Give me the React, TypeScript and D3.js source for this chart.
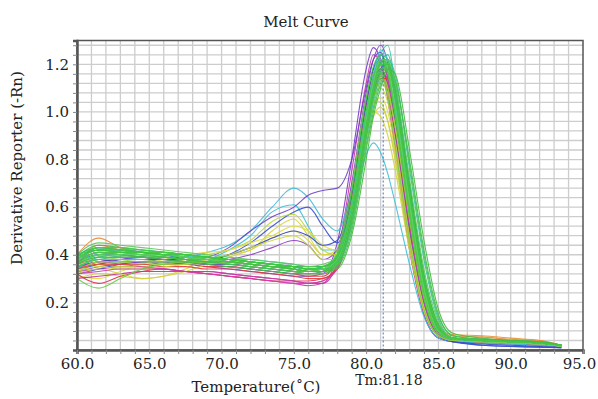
import React, { useEffect, useRef } from "react";
import * as d3 from "d3";

// temperatures (°C) where every curve is sampled
const temps = [60, 61.5, 63, 64.5, 66, 67.5, 69, 70.5, 72, 73.5, 75, 76, 77, 78, 79, 80, 80.5, 81, 81.5, 82, 83, 84, 85, 86, 88, 90, 92, 93.5];

// derivative reporter (-Rn) for each well, same order as temps
const wellValues = [
  [0.35,0.37,0.38,0.38,0.37,0.36,0.35,0.34,0.33,0.32,0.31,0.31,0.32, 0.45,0.80,1.18,1.27,1.22,1.08,0.86,0.44,0.15,0.05,0.035,0.03,0.03,0.02,0.015],
  [0.33,0.34,0.35,0.35,0.34,0.33,0.32,0.31,0.30,0.29,0.28,0.27,0.28, 0.40,0.75,1.12,1.24,1.20,1.05,0.84,0.42,0.15,0.05,0.035,0.03,0.025,0.02,0.015],
  [0.36,0.38,0.37,0.37,0.36,0.36,0.35,0.35,0.34,0.33,0.32,0.31,0.31, 0.38,0.66,1.04,1.16,1.18,1.10,0.92,0.50,0.20,0.07,0.05,0.045,0.04,0.035,0.02],
  [0.40,0.47,0.43,0.41,0.40,0.39,0.38,0.37,0.36,0.35,0.34,0.33,0.34, 0.40,0.64,1.00,1.12,1.15,1.08,0.90,0.50,0.20,0.08,0.06,0.055,0.045,0.04,0.02],
  [0.30,0.32,0.31,0.30,0.31,0.34,0.38,0.40,0.42,0.50,0.55,0.48,0.40, 0.42,0.62,0.92,1.00,0.98,0.90,0.76,0.42,0.16,0.06,0.04,0.035,0.03,0.025,0.015],
  [0.33,0.36,0.37,0.37,0.37,0.37,0.38,0.42,0.48,0.58,0.61,0.52,0.42, 0.42,0.58,0.82,0.87,0.83,0.74,0.62,0.36,0.14,0.05,0.035,0.03,0.025,0.02,0.015],
  [0.37,0.40,0.39,0.38,0.38,0.39,0.41,0.44,0.50,0.60,0.68,0.64,0.55, 0.50,0.68,1.00,1.12,1.18,1.12,0.95,0.52,0.20,0.07,0.04,0.035,0.03,0.025,0.015],
  [0.34,0.36,0.38,0.39,0.38,0.38,0.39,0.43,0.50,0.56,0.60,0.65,0.67, 0.68,0.80,1.10,1.22,1.25,1.15,0.95,0.50,0.18,0.06,0.04,0.035,0.03,0.025,0.015],
  [0.32,0.34,0.36,0.37,0.37,0.36,0.37,0.40,0.45,0.52,0.58,0.60,0.52, 0.45,0.62,0.98,1.12,1.18,1.10,0.92,0.50,0.19,0.06,0.04,0.035,0.03,0.025,0.015],
  [0.34,0.36,0.35,0.35,0.36,0.38,0.40,0.42,0.46,0.54,0.57,0.50,0.42, 0.40,0.60,0.95,1.05,1.04,0.96,0.80,0.44,0.17,0.06,0.04,0.035,0.03,0.025,0.015],
  [0.31,0.30,0.33,0.36,0.38,0.40,0.41,0.42,0.45,0.48,0.52,0.50,0.44, 0.42,0.60,0.90,1.02,1.06,1.00,0.84,0.46,0.18,0.06,0.04,0.035,0.03,0.025,0.015],
  [0.32,0.28,0.31,0.33,0.34,0.33,0.32,0.31,0.30,0.29,0.29,0.29,0.30, 0.34,0.56,0.96,1.12,1.18,1.12,0.94,0.54,0.22,0.07,0.045,0.04,0.035,0.03,0.02],
  [0.36,0.43,0.42,0.41,0.40,0.38,0.36,0.35,0.34,0.33,0.32,0.32,0.33, 0.39,0.64,1.04,1.18,1.22,1.14,0.96,0.54,0.21,0.07,0.035,0.02,0.015,0.012,0.01],
  [0.30,0.31,0.32,0.33,0.33,0.33,0.33,0.32,0.31,0.30,0.29,0.28,0.28, 0.36,0.62,1.02,1.16,1.18,1.10,0.90,0.48,0.18,0.06,0.04,0.035,0.03,0.025,0.015],
  [0.33,0.35,0.36,0.37,0.37,0.37,0.37,0.38,0.40,0.43,0.46,0.44,0.38, 0.42,0.70,1.08,1.22,1.28,1.20,0.98,0.52,0.19,0.06,0.04,0.035,0.03,0.025,0.015],
  [0.37,0.41,0.40,0.39,0.38,0.37,0.36,0.36,0.35,0.34,0.33,0.32,0.32, 0.37,0.60,1.00,1.15,1.22,1.16,0.98,0.56,0.22,0.07,0.045,0.04,0.035,0.03,0.02],
  [0.32,0.34,0.32,0.30,0.31,0.33,0.36,0.39,0.42,0.47,0.50,0.46,0.40, 0.40,0.56,0.86,0.98,1.02,0.96,0.82,0.46,0.18,0.06,0.04,0.035,0.03,0.025,0.015],
  [0.35,0.37,0.38,0.38,0.38,0.38,0.38,0.40,0.43,0.47,0.50,0.48,0.44, 0.46,0.66,1.04,1.18,1.24,1.16,0.96,0.52,0.20,0.06,0.035,0.025,0.02,0.015,0.01],
  [0.36,0.44,0.42,0.40,0.39,0.38,0.37,0.37,0.36,0.35,0.34,0.33,0.33, 0.38,0.62,1.00,1.12,1.16,1.10,0.94,0.54,0.22,0.09,0.065,0.06,0.05,0.04,0.02],
  [0.34,0.37,0.36,0.35,0.34,0.33,0.32,0.31,0.30,0.29,0.28,0.28,0.29, 0.36,0.58,0.98,1.14,1.20,1.14,0.94,0.52,0.20,0.06,0.04,0.035,0.03,0.025,0.015],
  [0.35,0.39,0.38,0.37,0.37,0.38,0.39,0.38,0.37,0.36,0.35,0.34,0.34, 0.38,0.60,0.98,1.12,1.16,1.10,0.94,0.55,0.22,0.07,0.045,0.04,0.035,0.03,0.02],
  [0.33,0.37,0.37,0.36,0.36,0.36,0.37,0.37,0.36,0.35,0.34,0.33,0.33, 0.37,0.58,0.94,1.08,1.12,1.08,0.94,0.56,0.23,0.08,0.045,0.04,0.035,0.03,0.02],
  [0.34,0.36,0.36,0.36,0.35,0.35,0.34,0.34,0.33,0.32,0.31,0.30,0.30, 0.35,0.54,0.90,1.06,1.14,1.14,1.02,0.66,0.30,0.10,0.05,0.04,0.035,0.03,0.02],
  [0.37,0.40,0.40,0.39,0.38,0.37,0.36,0.36,0.35,0.34,0.33,0.33,0.33, 0.36,0.56,0.92,1.08,1.18,1.20,1.08,0.68,0.30,0.10,0.04,0.02,0.015,0.012,0.01],
  [0.33,0.35,0.34,0.34,0.35,0.36,0.38,0.40,0.43,0.46,0.48,0.44,0.38, 0.38,0.58,0.94,1.06,1.10,1.04,0.88,0.48,0.18,0.06,0.04,0.035,0.03,0.025,0.015],
  [0.32,0.33,0.34,0.34,0.34,0.33,0.33,0.32,0.31,0.30,0.29,0.28,0.29, 0.34,0.54,0.92,1.08,1.16,1.14,1.00,0.60,0.26,0.08,0.045,0.04,0.035,0.03,0.02],
  [0.38,0.42,0.41,0.40,0.39,0.38,0.38,0.38,0.37,0.36,0.35,0.34,0.34, 0.38,0.60,1.00,1.16,1.26,1.22,1.04,0.62,0.26,0.08,0.045,0.035,0.03,0.025,0.015],
  [0.35,0.38,0.38,0.38,0.37,0.37,0.37,0.37,0.36,0.35,0.34,0.33,0.33, 0.42,0.68,1.06,1.16,1.16,1.06,0.86,0.46,0.17,0.06,0.04,0.035,0.03,0.025,0.015],
  [0.34,0.39,0.40,0.40,0.39,0.38,0.38,0.37,0.36,0.35,0.34,0.33,0.33, 0.37,0.55,0.92,1.10,1.24,1.28,1.12,0.68,0.30,0.10,0.05,0.04,0.035,0.03,0.02],
  [0.40,0.43,0.42,0.42,0.41,0.40,0.38,0.37,0.36,0.35,0.34,0.34,0.35, 0.39,0.58,0.94,1.10,1.20,1.20,1.08,0.66,0.28,0.09,0.05,0.04,0.035,0.03,0.02],
  [0.36,0.41,0.41,0.40,0.40,0.39,0.39,0.38,0.38,0.37,0.36,0.35,0.35, 0.40,0.60,0.96,1.12,1.22,1.22,1.08,0.64,0.27,0.09,0.05,0.04,0.035,0.03,0.02],
  [0.38,0.42,0.42,0.41,0.40,0.39,0.38,0.37,0.36,0.35,0.35,0.34,0.34, 0.37,0.56,0.93,1.09,1.21,1.24,1.12,0.70,0.31,0.10,0.05,0.04,0.035,0.03,0.02],
  [0.36,0.40,0.41,0.41,0.40,0.39,0.38,0.38,0.37,0.36,0.35,0.34,0.34, 0.36,0.52,0.88,1.04,1.16,1.22,1.16,0.76,0.38,0.13,0.05,0.04,0.035,0.03,0.02],
  [0.37,0.42,0.42,0.41,0.41,0.40,0.39,0.38,0.37,0.36,0.35,0.34,0.34, 0.38,0.60,0.98,1.14,1.24,1.22,1.06,0.64,0.28,0.09,0.05,0.04,0.035,0.03,0.02],
  [0.30,0.26,0.30,0.34,0.36,0.37,0.37,0.36,0.35,0.34,0.33,0.32,0.32, 0.36,0.56,0.94,1.10,1.20,1.16,1.00,0.60,0.25,0.08,0.05,0.04,0.035,0.03,0.02],
  [0.36,0.41,0.40,0.39,0.38,0.37,0.36,0.35,0.34,0.33,0.32,0.32,0.33, 0.40,0.66,1.05,1.19,1.24,1.18,1.00,0.58,0.24,0.08,0.05,0.04,0.035,0.03,0.02],
  [0.38,0.42,0.41,0.40,0.39,0.38,0.37,0.36,0.35,0.34,0.33,0.33,0.34, 0.38,0.58,0.95,1.12,1.22,1.20,1.06,0.64,0.27,0.09,0.05,0.04,0.035,0.03,0.02],
  [0.37,0.41,0.41,0.40,0.40,0.39,0.38,0.37,0.36,0.35,0.34,0.33,0.34, 0.36,0.52,0.86,1.02,1.14,1.20,1.14,0.78,0.40,0.14,0.06,0.045,0.04,0.035,0.02],
  [0.37,0.40,0.41,0.41,0.40,0.39,0.38,0.37,0.36,0.35,0.34,0.33,0.33, 0.37,0.56,0.92,1.08,1.18,1.19,1.08,0.68,0.30,0.10,0.05,0.04,0.035,0.03,0.02],
  [0.39,0.44,0.43,0.42,0.41,0.40,0.39,0.38,0.37,0.36,0.35,0.35,0.35, 0.38,0.56,0.90,1.06,1.17,1.20,1.10,0.70,0.32,0.11,0.05,0.04,0.035,0.03,0.02],
  [0.39,0.42,0.42,0.41,0.40,0.40,0.39,0.38,0.37,0.36,0.35,0.34,0.34, 0.35,0.50,0.84,1.00,1.12,1.18,1.13,0.80,0.42,0.15,0.06,0.045,0.04,0.035,0.02],
  [0.38,0.43,0.42,0.41,0.41,0.40,0.39,0.38,0.37,0.36,0.34,0.33,0.33, 0.36,0.54,0.90,1.06,1.16,1.18,1.06,0.66,0.30,0.10,0.05,0.04,0.035,0.03,0.02],
  [0.38,0.43,0.43,0.42,0.41,0.40,0.39,0.38,0.37,0.36,0.35,0.34,0.35, 0.40,0.62,1.00,1.14,1.22,1.16,0.98,0.56,0.22,0.07,0.045,0.04,0.035,0.03,0.02],
  [0.35,0.38,0.39,0.39,0.39,0.38,0.37,0.36,0.35,0.34,0.33,0.32,0.32, 0.35,0.55,0.94,1.10,1.21,1.21,1.08,0.66,0.28,0.09,0.05,0.04,0.035,0.03,0.02],
  [0.40,0.45,0.44,0.43,0.42,0.41,0.40,0.39,0.38,0.37,0.36,0.35,0.36, 0.39,0.58,0.94,1.10,1.20,1.22,1.12,0.72,0.34,0.12,0.05,0.04,0.035,0.03,0.02],
  [0.36,0.40,0.40,0.40,0.40,0.39,0.38,0.37,0.36,0.35,0.34,0.33,0.34, 0.38,0.58,0.96,1.12,1.22,1.18,1.02,0.62,0.26,0.08,0.05,0.04,0.035,0.03,0.02],
  [0.36,0.39,0.39,0.39,0.39,0.38,0.37,0.37,0.36,0.35,0.34,0.33,0.33, 0.34,0.48,0.80,0.98,1.10,1.18,1.16,0.84,0.46,0.17,0.07,0.05,0.04,0.035,0.02],
  [0.40,0.42,0.41,0.41,0.40,0.40,0.39,0.38,0.37,0.36,0.35,0.34,0.35, 0.39,0.58,0.94,1.10,1.20,1.20,1.06,0.66,0.29,0.09,0.05,0.04,0.035,0.03,0.02],
];

const wellColors = [
  "#7a3cc8", "#cc33aa", "#e8334a", "#e8883a", "#d4d43a", "#3cc0d8",
  "#44b8d8", "#6a40c8", "#3a4fcf", "#b8d83a", "#e0dc40", "#dd2e55",
  "#4055d0", "#bb3399", "#8a3cc0", "#f04040", "#d8d040", "#3344c8",
  "#e89030", "#d040b0", "#88d840", "#a0d840", "#e43a3a", "#3a50d0",
  "#c8d83c", "#c83caa", "#40c8e0", "#78d048", "#2ec8a0", "#30c0a8",
  "#3cccb8", "#2aa888", "#34c4a4", "#38c890", "#66cc44", "#44c444",
  "#55cc3c", "#52c452", "#48c850", "#3ab84a", "#3fbf55", "#50c83a",
  "#48cc48", "#40c060", "#5cc85c", "#60d060", "#44bc3c", "#3cc83c",
];

const tmValue = 81.18;
const xTicks = [60, 65, 70, 75, 80, 85, 90, 95];
const yTicks = [0.2, 0.4, 0.6, 0.8, 1.0, 1.2];

const W = 598;
const H = 399;
const FONT = "'DejaVu Serif', serif";

const App = () => {
  const svgRef = useRef<SVGSVGElement>(null);

  useEffect(() => {
    const svg = d3.select(svgRef.current);
    svg.selectAll("*").remove();

    const left = 77, right = 583, top = 40.5, bottom = 350;
    const x = d3.scaleLinear().domain([60, 95]).range([left, right]);
    const y = d3.scaleLinear().domain([0, 1.3]).range([bottom, top]);

    svg.append("rect").attr("width", W).attr("height", H).attr("fill", "#fff");

    // grid
    const grid = svg.append("g");
    grid.selectAll(".vg").data(d3.range(61, 95, 1)).join("line")
      .attr("x1", d => x(d)).attr("x2", d => x(d))
      .attr("y1", top).attr("y2", bottom)
      .attr("stroke", "#cdcdcd").attr("stroke-width", 1.3);
    grid.selectAll(".hg").data(d3.range(1, 33).map(i => i * 0.04)).join("line")
      .attr("x1", left).attr("x2", right)
      .attr("y1", d => y(d)).attr("y2", d => y(d))
      .attr("stroke", "#cdcdcd").attr("stroke-width", 1.3);

    // curves
    const line = d3.line<number>()
      .x((d, i) => x(temps[i]))
      .y(d => y(d))
      .curve(d3.curveMonotoneX);
    svg.append("g").selectAll("path").data(wellValues).join("path")
      .attr("d", d => line(d))
      .attr("fill", "none")
      .attr("stroke", (d, i) => wellColors[i])
      .attr("stroke-width", 1.1)
      .attr("stroke-opacity", 0.9);

    // Tm marker
    svg.append("line")
      .attr("x1", x(tmValue)).attr("x2", x(tmValue))
      .attr("y1", top).attr("y2", bottom)
      .attr("stroke", "#3a6fd0").attr("stroke-width", 1)
      .attr("stroke-dasharray", "2,2");

    // frame
    svg.append("rect")
      .attr("x", left).attr("y", top)
      .attr("width", right - left).attr("height", bottom - top)
      .attr("fill", "none").attr("stroke", "#555").attr("stroke-width", 1.5);

    // axes
    const yAxis = d3.axisLeft(y)
      .tickValues(d3.range(1, 33).map(i => i * 0.04))
      .tickSize(4).tickPadding(4)
      .tickFormat(d => {
        const v = +d;
        return yTicks.some(t => Math.abs(t - v) < 1e-6) ? v.toFixed(1) : "";
      });
    const gy = svg.append("g").attr("transform", `translate(${left},0)`).call(yAxis);
    gy.select(".domain").attr("stroke", "#555").attr("stroke-width", 2.5);
    gy.selectAll(".tick line").attr("stroke", "#888");
    gy.selectAll("text").attr("font-family", FONT).attr("font-size", 15).attr("fill", "#222");

    const xAxis = d3.axisBottom(x)
      .tickValues(d3.range(60, 96, 1))
      .tickSize(4).tickPadding(4)
      .tickFormat(d => (xTicks.includes(+d) ? (+d).toFixed(1) : ""));
    const gx = svg.append("g").attr("transform", `translate(0,${bottom})`).call(xAxis);
    gx.select(".domain").attr("stroke", "#555").attr("stroke-width", 2.5);
    gx.selectAll(".tick line").attr("stroke", "#888");
    gx.selectAll("text").attr("font-family", FONT).attr("font-size", 15).attr("fill", "#222")
      .attr("dx", d => (+d === 95 ? -4 : 0));

    // titles
    svg.append("text").attr("x", 306).attr("y", 27).attr("text-anchor", "middle")
      .attr("font-family", FONT).attr("font-size", 15).attr("fill", "#222")
      .text("Melt Curve");
    svg.append("text").attr("transform", "translate(22,168) rotate(-90)")
      .attr("text-anchor", "middle")
      .attr("font-family", FONT).attr("font-size", 15).attr("fill", "#222")
      .text("Derivative Reporter (-Rn)");
    svg.append("text").attr("x", 256).attr("y", 392).attr("text-anchor", "middle")
      .attr("font-family", FONT).attr("font-size", 15).attr("fill", "#222")
      .text("Temperature(˚C)");
    svg.append("text").attr("x", 389).attr("y", 385).attr("text-anchor", "middle")
      .attr("font-family", FONT).attr("font-size", 14).attr("fill", "#222")
      .text("Tm:" + tmValue.toFixed(2));
  }, []);

  return (
    <svg ref={svgRef} width={W} height={H}
      style={{ position: "absolute", left: 0, top: 0, display: "block" }} />
  );
};

export default App;
